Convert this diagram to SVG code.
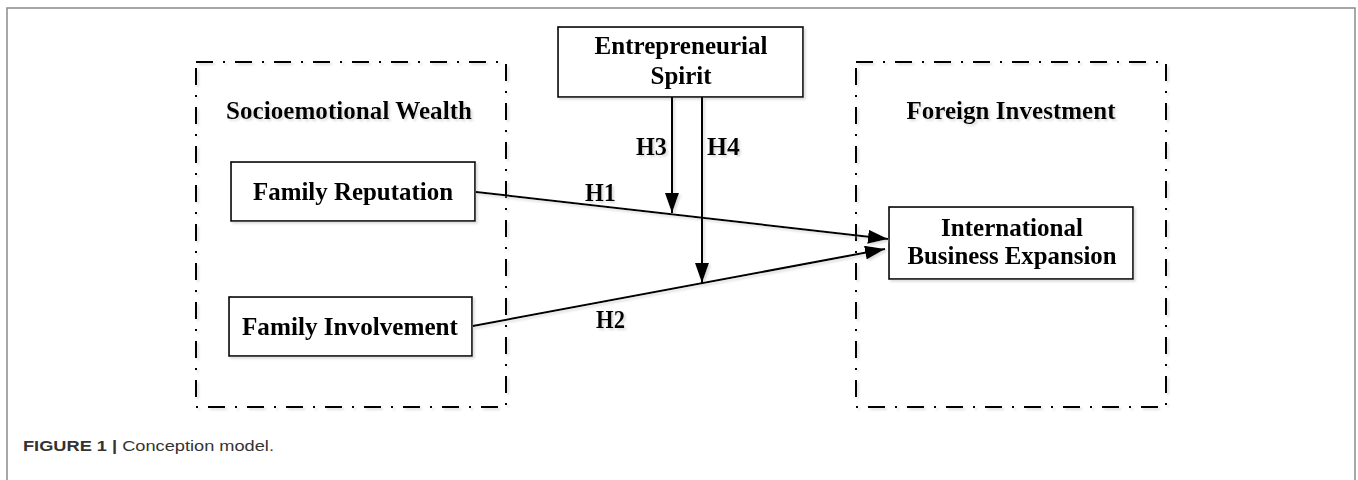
<svg xmlns="http://www.w3.org/2000/svg" width="1358" height="480" viewBox="0 0 1358 480">
  <style>
    .frame { fill: none; stroke: #8a8a8a; stroke-width: 1.5; }
    .group { fill: none; stroke: #000; stroke-width: 2; stroke-dasharray: 17 10 2 10; }
    .box { fill: #fff; stroke: #000; stroke-width: 1.6; }
    .lbl { font-family: "Liberation Serif", "Times New Roman", serif; font-weight: bold; font-size: 25.5px; fill: #000; }
    .mid { text-anchor: middle; }
    .conn { fill: none; stroke: #000; stroke-width: 2; }
    .cap { font-family: "Liberation Sans", Arial, sans-serif; font-size: 14px; fill: #333; }
  </style>
  <defs>
    <marker id="arrow" markerUnits="userSpaceOnUse" markerWidth="22" markerHeight="16" refX="20" refY="7" orient="auto">
      <path d="M0,0 L20,7 L0,14 z" fill="#000"/>
    </marker>
    <filter id="shadow" x="-10%" y="-10%" width="130%" height="140%">
      <feDropShadow dx="2" dy="2" stdDeviation="1" flood-color="#aaa" flood-opacity="0.4"/>
    </filter>
  </defs>

  <rect class="frame" x="7" y="8" width="1348" height="490"/>

  <g id="socioemotional-wealth" filter="url(#shadow)">
    <rect class="group" x="196" y="62" width="310" height="345"/>
    <text class="lbl mid" x="349" y="119" textLength="246" lengthAdjust="spacingAndGlyphs">Socioemotional Wealth</text>
  </g>

  <g id="foreign-investment" filter="url(#shadow)">
    <rect class="group" x="856" y="62" width="310" height="345"/>
    <text class="lbl mid" x="1011" y="119" textLength="209" lengthAdjust="spacingAndGlyphs">Foreign Investment</text>
  </g>

  <g id="family-reputation" filter="url(#shadow)">
    <rect class="box" x="231" y="162" width="244" height="59"/>
    <text class="lbl mid" x="353" y="200" textLength="200" lengthAdjust="spacingAndGlyphs">Family Reputation</text>
  </g>

  <g id="family-involvement" filter="url(#shadow)">
    <rect class="box" x="229" y="297" width="243" height="59"/>
    <text class="lbl mid" x="350" y="335" textLength="216" lengthAdjust="spacingAndGlyphs">Family Involvement</text>
  </g>

  <g id="entrepreneurial-spirit" filter="url(#shadow)">
    <rect class="box" x="558" y="27" width="245" height="70"/>
    <text class="lbl mid" x="681" y="54" textLength="173" lengthAdjust="spacingAndGlyphs">Entrepreneurial</text>
    <text class="lbl mid" x="681" y="84" textLength="61" lengthAdjust="spacingAndGlyphs">Spirit</text>
  </g>

  <g id="international-business-expansion" filter="url(#shadow)">
    <rect class="box" x="889" y="207" width="244" height="72"/>
    <text class="lbl mid" x="1012" y="236" textLength="142" lengthAdjust="spacingAndGlyphs">International</text>
    <text class="lbl mid" x="1012" y="264" textLength="209" lengthAdjust="spacingAndGlyphs">Business Expansion</text>
  </g>

  <g id="connectors" filter="url(#shadow)">
    <line class="conn" x1="476" y1="192" x2="888" y2="239" marker-end="url(#arrow)"/>
    <line class="conn" x1="473" y1="326" x2="885" y2="249" marker-end="url(#arrow)"/>
    <line class="conn" x1="672" y1="97" x2="672" y2="213" marker-end="url(#arrow)"/>
    <line class="conn" x1="702" y1="97" x2="702" y2="283" marker-end="url(#arrow)"/>
    <text class="lbl" x="585" y="201" textLength="31" lengthAdjust="spacingAndGlyphs">H1</text>
    <text class="lbl" x="596" y="328" textLength="29" lengthAdjust="spacingAndGlyphs">H2</text>
    <text class="lbl" x="636" y="155" textLength="31" lengthAdjust="spacingAndGlyphs">H3</text>
    <text class="lbl" x="707" y="155" textLength="33" lengthAdjust="spacingAndGlyphs">H4</text>
  </g>

  <text class="cap" x="23" y="451" textLength="251" lengthAdjust="spacingAndGlyphs"><tspan font-weight="bold">FIGURE 1 | </tspan>Conception model.</text>
</svg>
